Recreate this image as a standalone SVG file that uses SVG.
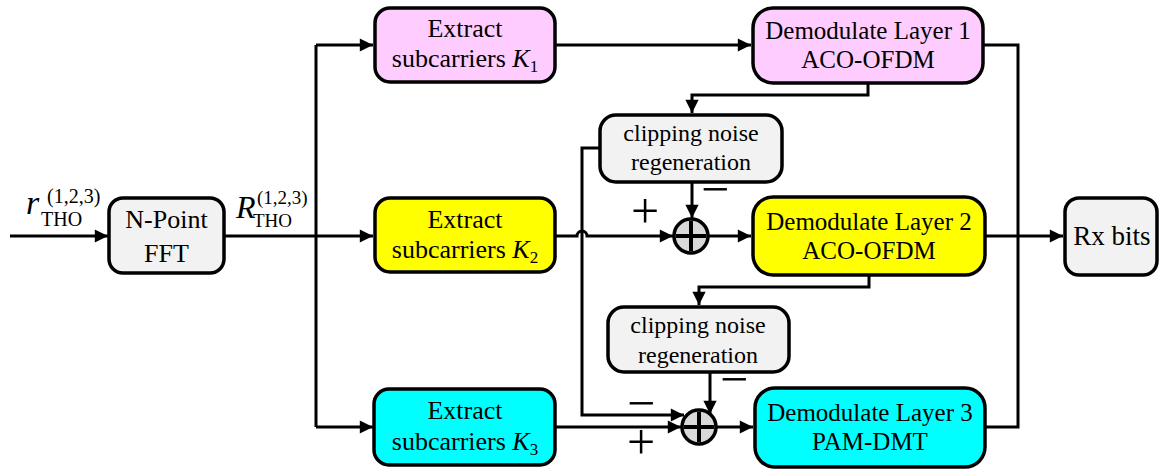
<svg xmlns="http://www.w3.org/2000/svg" width="1159" height="469" viewBox="0 0 1159 469" font-family="'Liberation Serif', 'Times New Roman', serif">
  <defs>
    <marker id="arr" viewBox="0 0 10 10" refX="10" refY="5" markerWidth="6" markerHeight="4.4" markerUnits="strokeWidth" orient="auto">
      <path d="M0,0 L10,5 L0,10 Z" fill="#000"/>
    </marker>
    <style>
      .box { stroke: #000; stroke-width: 3.5; }
      .gray { fill: #F2F2F2; }
      .pink { fill: #FFCCFF; }
      .yellow { fill: #FFFF00; }
      .cyan { fill: #00FFFF; }
      .t { fill: #000; text-anchor: middle; }
      .lbl { fill: #000; }
      .wire { fill: none; stroke: #000; stroke-width: 3; }
      .arrow { fill: none; stroke: #000; stroke-width: 3; marker-end: url(#arr); }
      .sign { font-size: 50px; fill: #000; text-anchor: middle; }
    </style>
  </defs>

  <!-- connectors -->
  <g id="connectors">
    <!-- input to FFT -->
    <path class="arrow" d="M10,236 H108"/>
    <!-- FFT output and distribution bus -->
    <path class="wire" d="M224,236 H316"/>
    <path class="wire" d="M316,45 V427"/>
    <path class="arrow" d="M316,45 H373"/>
    <path class="arrow" d="M316,236 H373"/>
    <path class="arrow" d="M316,427 H373"/>
    <!-- layer 1 -->
    <path class="arrow" d="M555,45 H751"/>
    <path class="arrow" d="M868,83 V95 H692 V113"/>
    <!-- layer 2 path with hop over the vertical wire -->
    <path class="arrow" d="M555,236 H577 A5,5 0 0 1 587,236 H673"/>
    <path class="arrow" d="M692,182 V218"/>
    <path class="arrow" d="M709,236 H751"/>
    <path class="arrow" d="M869,275 V287 H699 V305"/>
    <!-- clipping noise 1 feeding layer 3 sum -->
    <path class="arrow" d="M600,148 H582 V415 H684"/>
    <!-- layer 3 -->
    <path class="arrow" d="M555,427 H681"/>
    <path class="arrow" d="M710,372 V414"/>
    <path class="arrow" d="M716,427 H753"/>
    <!-- output combining -->
    <path class="wire" d="M983,45 H1018 V427 H985"/>
    <path class="arrow" d="M985,236 H1063"/>
  </g>

  <!-- input / output labels -->
  <g id="label-r" font-family="'Liberation Serif', 'Times New Roman', serif">
    <text class="lbl" x="26" y="214" font-size="34" font-style="italic">r</text>
    <text class="lbl" x="41" y="226" font-size="20">THO</text>
    <text class="lbl" x="47" y="203" font-size="20">(1,2,3)</text>
  </g>
  <g id="label-R" font-family="'Liberation Serif', 'Times New Roman', serif">
    <text class="lbl" x="236" y="218" font-size="32" font-style="italic">R</text>
    <text class="lbl" x="253" y="227" font-size="19">THO</text>
    <text class="lbl" x="257" y="204" font-size="19">(1,2,3)</text>
  </g>

  <g id="fft" font-family="'Liberation Serif', 'Times New Roman', serif">
    <rect class="box gray" x="109" y="198" width="115" height="75" rx="14"/>
    <text class="t" x="166.5" y="228" font-size="26">N-Point</text>
    <text class="t" x="166.5" y="262" font-size="26">FFT</text>
  </g>

  <g id="extract1" font-family="'Liberation Serif', 'Times New Roman', serif">
    <rect class="box pink" x="375" y="8" width="180" height="74" rx="15"/>
    <text class="t" x="465" y="37" font-size="26">Extract</text>
    <text class="t" x="465" y="67" font-size="26">subcarriers <tspan font-style="italic">K</tspan><tspan font-size="17" dy="5">1</tspan></text>
  </g>
  <g id="extract2" font-family="'Liberation Serif', 'Times New Roman', serif">
    <rect class="box yellow" x="375" y="198" width="180" height="74" rx="15"/>
    <text class="t" x="465" y="228" font-size="26">Extract</text>
    <text class="t" x="465" y="258" font-size="26">subcarriers <tspan font-style="italic">K</tspan><tspan font-size="17" dy="5">2</tspan></text>
  </g>
  <g id="extract3" font-family="'Liberation Serif', 'Times New Roman', serif">
    <rect class="box cyan" x="374" y="389" width="181" height="76" rx="15"/>
    <text class="t" x="465" y="419" font-size="26">Extract</text>
    <text class="t" x="465" y="450" font-size="26">subcarriers <tspan font-style="italic">K</tspan><tspan font-size="17" dy="5">3</tspan></text>
  </g>

  <g id="demod1" font-family="'Liberation Serif', 'Times New Roman', serif">
    <rect class="box pink" x="753" y="8" width="230" height="75" rx="20"/>
    <text class="t" x="868" y="39" font-size="25">Demodulate Layer 1</text>
    <text class="t" x="868" y="68" font-size="25">ACO-OFDM</text>
  </g>
  <g id="demod2" font-family="'Liberation Serif', 'Times New Roman', serif">
    <rect class="box yellow" x="753" y="197" width="232" height="78" rx="20"/>
    <text class="t" x="869" y="230" font-size="25">Demodulate Layer 2</text>
    <text class="t" x="869" y="259" font-size="25">ACO-OFDM</text>
  </g>
  <g id="demod3" font-family="'Liberation Serif', 'Times New Roman', serif">
    <rect class="box cyan" x="755" y="388" width="230" height="79" rx="20"/>
    <text class="t" x="870" y="421" font-size="25">Demodulate Layer 3</text>
    <text class="t" x="870" y="450" font-size="25">PAM-DMT</text>
  </g>

  <g id="clip1" font-family="'Liberation Serif', 'Times New Roman', serif">
    <rect class="box gray" x="600" y="115" width="182" height="67" rx="16"/>
    <text class="t" x="691" y="141" font-size="24">clipping noise</text>
    <text class="t" x="691" y="170" font-size="24">regeneration</text>
  </g>
  <g id="clip2" font-family="'Liberation Serif', 'Times New Roman', serif">
    <rect class="box gray" x="608" y="307" width="181" height="65" rx="16"/>
    <text class="t" x="698" y="333" font-size="24">clipping noise</text>
    <text class="t" x="698" y="363" font-size="24">regeneration</text>
  </g>

  <g id="sum1">
    <circle cx="691" cy="236" r="17" fill="#D9D9D9" stroke="#000" stroke-width="3.5"/>
    <path d="M676,236 H706 M691,221 V251" stroke="#000" stroke-width="4"/>
  </g>
  <g id="sum2">
    <circle cx="699" cy="427" r="17" fill="#D9D9D9" stroke="#000" stroke-width="3.5"/>
    <path d="M684,427 H714 M699,412 V442" stroke="#000" stroke-width="4"/>
  </g>

  <g id="rxbits" font-family="'Liberation Serif', 'Times New Roman', serif">
    <rect class="box gray" x="1065" y="198" width="92" height="77" rx="14"/>
    <text class="t" x="1112" y="245" font-size="27">Rx bits</text>
  </g>

  <!-- sign marks at the summing points -->
  <g id="signs" font-family="'Liberation Serif', 'Times New Roman', serif">
    <text class="sign" x="645" y="228">+</text>
    <text class="sign" x="715" y="206">−</text>
    <text class="sign" x="641" y="420">−</text>
    <text class="sign" x="734" y="396">−</text>
    <text class="sign" x="641" y="459" font-size="44">+</text>
  </g>
</svg>
